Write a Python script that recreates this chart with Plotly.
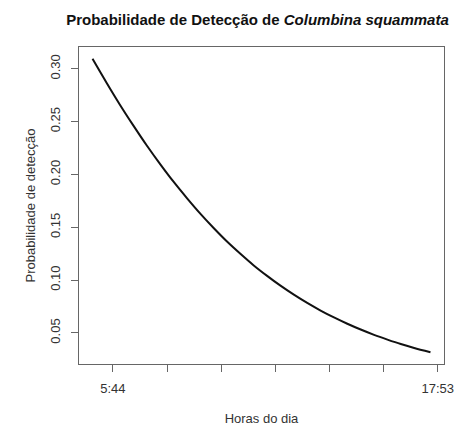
import numpy as np
import plotly.graph_objects as go

# Detection probability over the day (hours, decimal)
hours = [4.97, 5.5, 6.0, 6.5, 7.0, 7.5, 8.0, 8.5, 9.0, 9.5, 10.0, 10.5, 11.0, 11.5,
         12.0, 12.5, 13.0, 13.5, 14.0, 14.5, 15.0, 15.5, 16.0, 16.5, 17.0, 17.61]
prob = [0.3095, 0.2866, 0.2658, 0.2462, 0.2274, 0.2098, 0.1931, 0.1776, 0.1629, 0.1493,
        0.1365, 0.1249, 0.1139, 0.1040, 0.0947, 0.0862, 0.0784, 0.0712, 0.0647, 0.0587,
        0.0532, 0.0482, 0.0437, 0.0395, 0.0358, 0.0317]

# Axis labelling: first and last observation times, 7 evenly spaced ticks
x_first_label = "5:44"
x_last_label = "17:53"
n_x_ticks = 7
y_ticks = [0.05, 0.10, 0.15, 0.20, 0.25, 0.30]


def to_hours(label):
    h, m = label.split(":")
    return int(h) + int(m) / 60.0


x_tick_vals = list(np.linspace(to_hours(x_first_label), to_hours(x_last_label), n_x_ticks))
x_tick_text = [x_first_label] + [""] * (n_x_ticks - 2) + [x_last_label]

# R-style 4% padding around the data range
x_pad = (max(hours) - min(hours)) * 0.04
y_pad = (max(prob) - min(prob)) * 0.04

FONT = "Liberation Sans, Arial, sans-serif"
TEXT = "#333333"
LINE = "#666666"

fig = go.Figure(
    go.Scatter(
        x=hours,
        y=prob,
        mode="lines",
        line=dict(color="#111111", width=2, shape="spline", smoothing=0.8),
        hoverinfo="skip",
    )
)

axis_common = dict(
    showgrid=False,
    zeroline=False,
    showline=True,
    mirror=True,
    linecolor=LINE,
    linewidth=1,
    ticks="outside",
    ticklen=7,
    tickcolor=LINE,
    tickwidth=1,
    tickfont=dict(family=FONT, size=13, color=TEXT),
)

fig.update_xaxes(
    range=[min(hours) - x_pad, max(hours) + x_pad],
    tickmode="array",
    tickvals=x_tick_vals,
    ticktext=x_tick_text,
    ticklabelstandoff=5,
    title=dict(text="Horas do dia", font=dict(family=FONT, size=13, color=TEXT), standoff=22),
    **axis_common,
)
fig.update_yaxes(
    range=[min(prob) - y_pad, max(prob) + y_pad],
    tickmode="array",
    tickvals=y_ticks,
    ticktext=[f"{v:.2f}" for v in y_ticks],
    tickangle=-90,
    ticklabelstandoff=6,
    title=dict(text="Probabilidade de detecção", font=dict(family=FONT, size=13, color=TEXT), standoff=9),
    **axis_common,
)

fig.update_layout(
    width=461,
    height=426,
    margin=dict(l=79, r=17, t=47, b=62, autoexpand=False),
    paper_bgcolor="white",
    plot_bgcolor="white",
    showlegend=False,
    title=dict(
        text="<b>Probabilidade de Detecção de <i>Columbina squammata</i></b>",
        font=dict(family=FONT, size=15, color="#111111"),
        x=257.5 / 461,
        xanchor="center",
        xref="container",
        y=1 - 20 / 426,
        yanchor="middle",
        yref="container",
    ),
)

fig.write_html("out.html")
